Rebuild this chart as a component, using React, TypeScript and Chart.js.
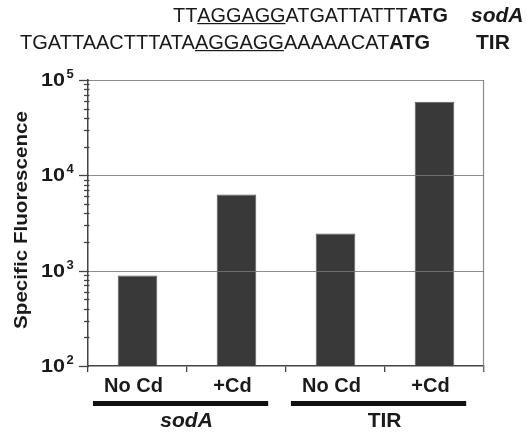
import React, { useEffect, useRef } from "react";
import { Chart, registerables } from "chart.js";

Chart.register(...registerables);

const categories = ["No Cd", "+Cd", "No Cd", "+Cd"];
const fluorescence = [890, 6300, 2450, 59000];
const groupNames = ["sodA", "TIR"];
const decadeExponents = [2, 3, 4, 5];
const gridDecades = [1000, 10000, 100000];
const yTitle = "Specific Fluorescence";
const seqSodA = ["TT", "AGGAGG", "ATGATTATTT", "ATG"];
const seqTIR = ["TGATTAACTTTATA", "AGGAGG", "AAAAACAT", "ATG"];

const INK = "#1a1a1a";
const FONT = "'Liberation Sans', Arial, sans-serif";

function drawSeq(ctx: CanvasRenderingContext2D, parts: string[], left: number, right: number, baseline: number) {
  const fonts = [`19.5px ${FONT}`, `19.5px ${FONT}`, `19.5px ${FONT}`, `bold 19.5px ${FONT}`];
  const widths = parts.map((p, i) => {
    ctx.font = fonts[i];
    return ctx.measureText(p).width;
  });
  const total = widths.reduce((a, b) => a + b, 0);
  const s = (right - left) / total;
  let x = left;
  ctx.textAlign = "left";
  ctx.textBaseline = "alphabetic";
  parts.forEach((p, i) => {
    ctx.save();
    ctx.font = fonts[i];
    ctx.translate(x, baseline);
    ctx.scale(s, 1);
    ctx.fillText(p, 0, 0);
    ctx.restore();
    if (i === 1) {
      ctx.fillRect(x, baseline + 1.5, widths[i] * s, 1.2);
    }
    x += widths[i] * s;
  });
}

const decorPlugin = {
  id: "decor",
  afterDraw(chart: any) {
    const ctx: CanvasRenderingContext2D = chart.ctx;
    const y = chart.scales.y;
    const x = chart.scales.x;
    const a = chart.chartArea;
    ctx.save();

    // gridlines and frame
    ctx.strokeStyle = "rgba(120,120,120,0.85)";
    ctx.lineWidth = 1.2;
    gridDecades.forEach((v) => {
      const py = Math.round(y.getPixelForValue(v)) + 0.5;
      ctx.beginPath();
      ctx.moveTo(a.left, py);
      ctx.lineTo(a.right, py);
      ctx.stroke();
    });
    ctx.beginPath();
    ctx.moveTo(Math.round(a.right) - 0.5, a.top);
    ctx.lineTo(Math.round(a.right) - 0.5, a.bottom + 6);
    ctx.stroke();

    // y ticks
    ctx.strokeStyle = "#444";
    ctx.lineWidth = 1.3;
    decadeExponents.forEach((e) => {
      const base = Math.pow(10, e);
      const py = Math.round(y.getPixelForValue(base)) + 0.5;
      ctx.beginPath();
      ctx.moveTo(a.left - 9, py);
      ctx.lineTo(a.left + 1, py);
      ctx.stroke();
      if (e < 5) {
        for (let m = 2; m <= 9; m++) {
          const pm = Math.round(y.getPixelForValue(m * base)) + 0.5;
          ctx.beginPath();
          ctx.moveTo(a.left - 4, pm);
          ctx.lineTo(a.left + 1.5, pm);
          ctx.stroke();
        }
      }
      // label
      ctx.fillStyle = INK;
      ctx.textBaseline = "alphabetic";
      ctx.textAlign = "right";
      ctx.font = `bold 18px ${FONT}`;
      const w = ctx.measureText("10").width;
      ctx.save();
      ctx.translate(65, py + 5);
      ctx.scale(24 / w, 1);
      ctx.fillText("10", 0, 0);
      ctx.restore();
      ctx.textAlign = "left";
      ctx.font = `bold 13px ${FONT}`;
      ctx.fillText(String(e), 66.5, py - 3);
    });

    // y title
    ctx.save();
    ctx.fillStyle = INK;
    ctx.font = `bold 18px ${FONT}`;
    const tw = ctx.measureText(yTitle).width;
    ctx.translate(26.5, (a.top + a.bottom) / 2 - 3);
    ctx.rotate(-Math.PI / 2);
    ctx.scale(218 / tw, 1);
    ctx.textAlign = "center";
    ctx.textBaseline = "alphabetic";
    ctx.fillText(yTitle, 0, 0);
    ctx.restore();

    // group bars and labels
    const cw = x.getPixelForValue(1) - x.getPixelForValue(0);
    ctx.fillStyle = "#111";
    groupNames.forEach((g, gi) => {
      const p0 = x.getPixelForValue(gi * 2);
      const p1 = x.getPixelForValue(gi * 2 + 1);
      const l = p0 - 0.45 * cw;
      const r = p1 + 0.32 * cw;
      ctx.fillRect(l, a.bottom + 35, r - l, 5);
      ctx.font = gi === 0 ? `italic bold 21px ${FONT}` : `bold 21px ${FONT}`;
      ctx.textAlign = "center";
      ctx.textBaseline = "alphabetic";
      ctx.fillStyle = INK;
      ctx.fillText(g, (l + r) / 2 + 6, a.bottom + 61);
      ctx.fillStyle = "#111";
    });

    // sequences
    ctx.fillStyle = INK;
    drawSeq(ctx, seqSodA, 173, 448, 21.5);
    drawSeq(ctx, seqTIR, 20, 430, 48.5);
    ctx.font = `italic bold 21px ${FONT}`;
    ctx.textAlign = "left";
    ctx.fillText("sodA", 471, 21.5);
    ctx.font = `bold 21px ${FONT}`;
    ctx.fillText("TIR", 476, 48.5);

    ctx.restore();
  },
};

export default function App() {
  const ref = useRef<HTMLCanvasElement>(null);
  useEffect(() => {
    if (!ref.current) return;
    const chart = new Chart(ref.current, {
      type: "bar",
      data: {
        labels: categories,
        datasets: [
          {
            data: fluorescence,
            backgroundColor: "#393939",
            borderColor: "#5a5a5a",
            borderWidth: 1,
            barPercentage: 0.4,
            categoryPercentage: 1,
          },
        ],
      },
      options: {
        responsive: false,
        animation: false,
        devicePixelRatio: 1,
        layout: { padding: { top: 80, right: 43, left: 0, bottom: 0 } },
        plugins: { legend: { display: false }, tooltip: { enabled: false } },
        scales: {
          x: {
            type: "category",
            grid: {
              display: true,
              offset: true,
              drawOnChartArea: false,
              drawTicks: true,
              tickLength: 6,
              color: "#444",
              lineWidth: 1.3,
            },
            border: { display: true, color: "#444", width: 1.5 },
            ticks: {
              color: INK,
              font: { family: FONT, size: 20, weight: "bold" },
              padding: 2,
              labelOffset: -4,
              maxRotation: 0,
            },
            afterFit: (s: any) => {
              s.height = 66;
            },
          },
          y: {
            type: "logarithmic",
            min: 100,
            max: 100000,
            grid: { display: false },
            border: { display: true, color: "#444", width: 1.5 },
            ticks: { display: false },
            afterFit: (s: any) => {
              s.width = 88;
            },
          },
        },
      },
      plugins: [decorPlugin],
    });
    return () => chart.destroy();
  }, []);
  return (
    <div style={{ position: "fixed", left: 0, top: 0, width: 527, height: 432, background: "#fff" }}>
      <canvas ref={ref} width={527} height={432} style={{ display: "block" }} />
    </div>
  );
}
